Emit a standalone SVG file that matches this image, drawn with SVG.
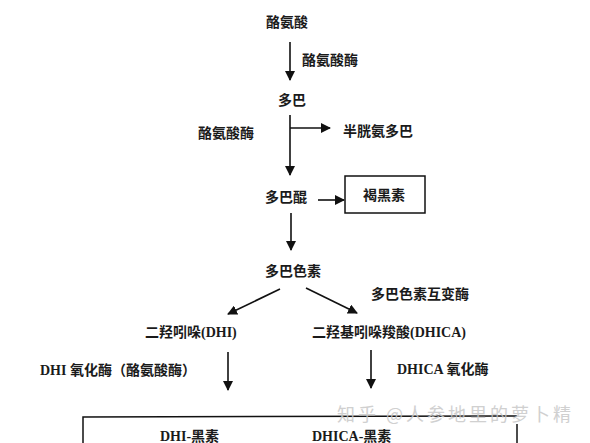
<svg xmlns="http://www.w3.org/2000/svg" width="590" height="443" viewBox="0 0 590 443">
<defs>
<marker id="ah" viewBox="0 0 10 10" refX="9" refY="5" markerWidth="10" markerHeight="10" markerUnits="userSpaceOnUse" orient="auto">
<path d="M0,0 L10,5 L0,10 z" fill="#111"/>
</marker>
<style>
text{font-family:"Liberation Serif","Noto Sans CJK SC",serif;font-size:14px;fill:#1a1a1a;font-weight:bold}
.c{text-anchor:middle}
.ln{stroke:#111;stroke-width:1.6;fill:none}
.box{stroke:#111;stroke-width:1.5;fill:none}
.wm{font-family:"Noto Sans CJK SC",sans-serif;font-size:18px;letter-spacing:3px;fill:#c8c8c8;font-weight:normal;opacity:0.85}
</style>
</defs>
<rect width="590" height="443" fill="#fff"/>
<g id="connectors">
<line class="ln" x1="290" y1="42" x2="290" y2="80" marker-end="url(#ah)"/>
<line class="ln" x1="290" y1="115" x2="290" y2="175" marker-end="url(#ah)"/>
<polyline class="ln" points="290,128 330,128" marker-end="url(#ah)"/>
<line class="ln" x1="318" y1="200" x2="344" y2="200" marker-end="url(#ah)"/>
<line class="ln" x1="291" y1="213" x2="291" y2="250" marker-end="url(#ah)"/>
<line class="ln" x1="280" y1="289" x2="228" y2="314" marker-end="url(#ah)"/>
<line class="ln" x1="306" y1="288" x2="357" y2="313" marker-end="url(#ah)"/>
<line class="ln" x1="228" y1="352" x2="228" y2="390" marker-end="url(#ah)"/>
<line class="ln" x1="371" y1="350" x2="371" y2="388" marker-end="url(#ah)"/>
</g>
<g id="tyrosine"><text class="c" x="287" y="27">酪氨酸</text></g>
<g id="enzyme1"><text x="302" y="65">酪氨酸酶</text></g>
<g id="dopa"><text class="c" x="292" y="105">多巴</text></g>
<g id="enzyme2"><text x="198" y="138">酪氨酸酶</text></g>
<g id="cysdopa"><text x="343" y="136">半胱氨多巴</text></g>
<g id="dopaquinone"><text class="c" x="286" y="202">多巴醌</text></g>
<g id="pheomelanin"><rect class="box" x="345" y="176" width="80" height="37"/><text class="c" x="384" y="200">褐黑素</text></g>
<g id="dopachrome"><text class="c" x="293" y="276">多巴色素</text></g>
<g id="tautomerase"><text x="371" y="299">多巴色素互变酶</text></g>
<g id="dhi"><text x="145" y="337">二羟吲哚(DHI)</text></g>
<g id="dhica"><text x="312" y="337">二羟基吲哚羧酸(DHICA)</text></g>
<g id="dhiox"><text x="40" y="375">DHI 氧化酶（酪氨酸酶）</text></g>
<g id="dhicaox"><text x="397" y="374">DHICA 氧化酶</text></g>
<g id="melanin">
<polyline class="box" points="83,443 83,417 517,416"/>
<line class="box" x1="517" y1="424" x2="517" y2="443"/>
<text x="160" y="441">DHI-黑素</text>
<text x="312" y="441">DHICA-黑素</text>
</g>
<text class="wm" x="337" y="421">知乎 @人参地里的萝卜精</text>
</svg>
